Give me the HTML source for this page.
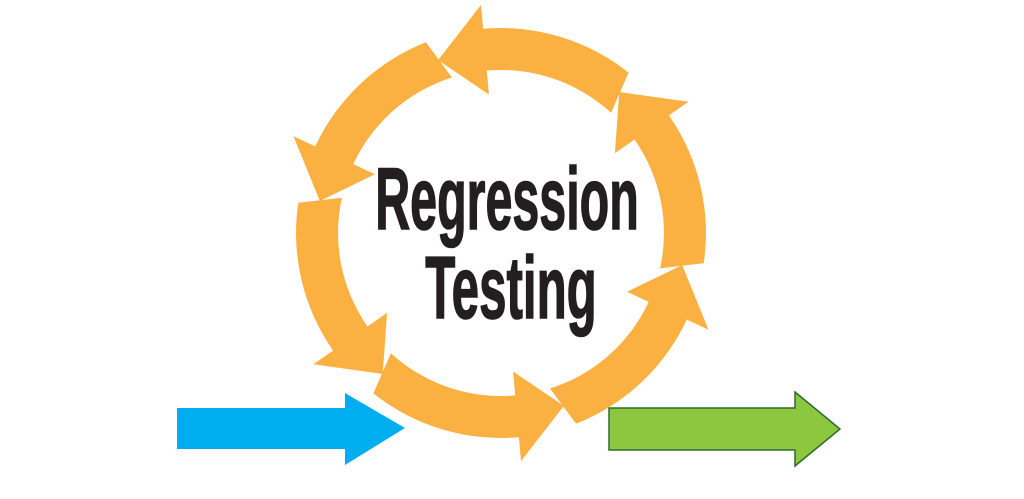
<!DOCTYPE html>
<html><head><meta charset="utf-8"><style>
html,body{margin:0;padding:0;background:#fff;}
body{width:1024px;height:499px;overflow:hidden;position:relative;}
svg{position:absolute;left:0;top:0;}
</style></head><body>
<svg id="s" width="1024" height="499" viewBox="0 0 1024 499">
<polygon points="177,408 345,408 345,393 405,428 345,465 345,449 177,449" fill="#00AEEF"/>
<polygon points="609,408 795,408 795,392 840,429 795,466 795,450 609,450" fill="#8DC63F" stroke="#2E6B2E" stroke-width="1.5"/>
<g id="ring" fill="#FBB042"></g>
<text x="0" y="0" font-family="'Liberation Sans Narrow','Liberation Sans',sans-serif" font-weight="bold" font-size="88" fill="#231F20" text-anchor="middle" transform="translate(507,229) scale(0.55,1)" stroke="#231F20" stroke-width="1.5">Regression</text>
<text x="0" y="0" font-family="'Liberation Sans Narrow','Liberation Sans',sans-serif" font-weight="bold" font-size="88" fill="#231F20" text-anchor="middle" transform="translate(511,318) scale(0.56,1)" stroke="#231F20" stroke-width="1.5">Testing</text>
</svg>
<script>
(function(){
var cx=501,cy=233,ro=205,ri=163,rm=184,hw=24;
function p(a,r){var t=a*Math.PI/180;return (cx+r*Math.cos(t)).toFixed(1)+','+(cy+r*Math.sin(t)).toFixed(1);}
var starts=[-50,-110,-170,130,70,10];
var g=document.getElementById('ring'),h='';
starts.forEach(function(a){
 var tail=a-1.5, base=a-45, tip=a-60;
 var d='M'+p(tail,ro)+' A'+ro+','+ro+' 0 0 0 '+p(base,ro)+' L'+p(base,ro+hw)+' L'+p(tip,rm)+' L'+p(base,ri-hw)+' L'+p(base,ri)+' A'+ri+','+ri+' 0 0 1 '+p(tail+4,ri)+' Z';
 h+='<path d="'+d+'"/>';
});
g.innerHTML=h;
})();
</script>
</body></html>
